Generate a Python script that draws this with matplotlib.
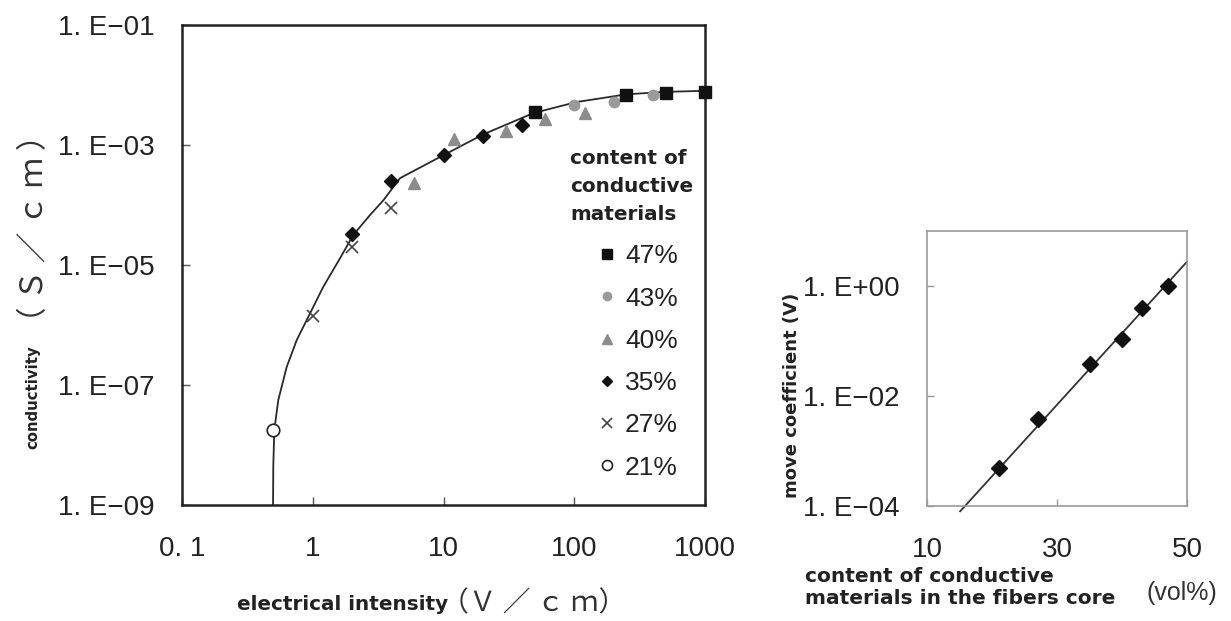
import matplotlib
matplotlib.use("Agg")
import matplotlib.pyplot as plt
from matplotlib.ticker import FixedLocator, FixedFormatter, NullLocator

# ---------------- data ----------------
# left panel: conductivity vs electrical intensity, one series per content
labels_content = ["47%", "43%", "40%", "35%", "27%", "21%"]

c47_x = [50, 250, 500, 1000]
c47_y = [3.5e-3, 6.8e-3, 7.4e-3, 7.7e-3]
c43_x = [100, 200, 400]
c43_y = [4.6e-3, 5.3e-3, 6.8e-3]
c40_x = [6, 12, 30, 60, 120]
c40_y = [2.3e-4, 1.26e-3, 1.7e-3, 2.7e-3, 3.4e-3]
c35_x = [2, 4, 10, 20, 40]
c35_y = [3.3e-5, 2.5e-4, 6.8e-4, 1.4e-3, 2.15e-3]
c27_x = [1, 2, 4]
c27_y = [1.4e-6, 2.0e-5, 9.0e-5]
c21_x = [0.5]
c21_y = [1.75e-8]

# fitted curve, points
fit_x = [0.494, 0.499, 0.508, 0.545, 0.632, 0.754, 0.925, 1.205, 1.615, 2.04,
         2.74, 3.47, 4.65, 10.3, 20.1, 48.6, 104, 252, 509, 1000]
fit_y = [1e-10, 4.4e-9, 1.78e-8, 5.6e-8, 2.0e-7, 5.6e-7, 1.37e-6, 4.35e-6, 1.29e-5, 3.16e-5,
         6.8e-5, 1.2e-4, 2.8e-4, 7.0e-4, 1.5e-3, 3.4e-3, 5.2e-3, 7.0e-3, 7.7e-3, 8.0e-3]

left_xticks = [0.1, 1, 10, 100, 1000]
left_xticklabels = ["0. 1", "1", "10", "100", "1000"]
left_yticks = [1e-9, 1e-7, 1e-5, 1e-3, 1e-1]
left_yticklabels = ["1. E\u221209", "1. E\u221207", "1. E\u221205", "1. E\u221203", "1. E\u221201"]

# right panel: move coefficient vs content
mc_content = [21, 27, 35, 40, 43, 47]
mc_coef = [4.8e-4, 3.8e-3, 0.038, 0.11, 0.40, 1.0]
trend_x = [15.1, 50]
trend_y = [8.0e-5, 2.73]

right_xticks = [10, 30, 50]
right_xticklabels = ["10", "30", "50"]
right_yticks = [1e-4, 1e-2, 1e0]
right_yticklabels = ["1. E\u221204", "1. E\u221202", "1. E+00"]

# ---------------- layout helpers ----------------
W, H = 1231, 621
def fx(px):
    return px / W
def fy(py):
    return 1 - py / H

NARROW = ["Liberation Sans", "DejaVu Sans"]
BOLD = ["DejaVu Sans"]
CJK = ["Noto Sans CJK JP", "DejaVu Sans"]
TXT = "#222222"

fig = plt.figure(figsize=(W / 100, H / 100), dpi=100)
fig.patch.set_facecolor("white")

# ---------------- left panel ----------------
ax = fig.add_axes([fx(182), fy(505), fx(705) - fx(182), fy(25) - fy(505)])
ax.set_xscale("log")
ax.set_yscale("log")
ax.set_xlim(0.1, 1000)
ax.set_ylim(1e-9, 1e-1)

ax.plot(fit_x, fit_y, color="#2a2a2a", lw=1.3, zorder=2)

h47, = ax.plot(c47_x, c47_y, ls="none", marker="s", ms=9, mfc="#111111", mec="#111111", zorder=5, clip_on=False)
h43, = ax.plot(c43_x, c43_y, ls="none", marker="o", ms=7.5, mfc="#9a9a9a", mec="#9a9a9a", zorder=4)
h40, = ax.plot(c40_x, c40_y, ls="none", marker="^", ms=8.5, mfc="#8c8c8c", mec="#8c8c8c", zorder=4)
h35, = ax.plot(c35_x, c35_y, ls="none", marker="D", ms=7, mfc="#111111", mec="#111111", zorder=4)
h27, = ax.plot(c27_x, c27_y, ls="none", marker="x", ms=9, mew=1.2, color="#444444", zorder=4)
h21, = ax.plot(c21_x, c21_y, ls="none", marker="o", ms=9, mfc="white", mec="#222222", mew=1.2, zorder=4)

for s in ax.spines.values():
    s.set_color("#222222")
    s.set_linewidth(1.8)

ax.xaxis.set_major_locator(FixedLocator(left_xticks))
ax.xaxis.set_major_formatter(FixedFormatter(left_xticklabels))
ax.yaxis.set_major_locator(FixedLocator(left_yticks))
ax.yaxis.set_major_formatter(FixedFormatter(left_yticklabels))
ax.xaxis.set_minor_locator(NullLocator())
ax.yaxis.set_minor_locator(NullLocator())
ax.tick_params(axis="both", direction="in", length=6, width=1, color="#555555")
ax.tick_params(axis="x", pad=22)
ax.tick_params(axis="y", pad=20)
for t in ax.get_xticklabels() + ax.get_yticklabels():
    t.set_family(NARROW)
    t.set_fontsize(20)
    t.set_color(TXT)

# legend title and entries
for txt, py in zip(["content of", "conductive", "materials"], [158, 187, 215]):
    fig.text(fx(570), fy(py), txt, ha="left", va="center", fontsize=14.4,
             fontweight="bold", family=BOLD, color=TXT)

leg = ax.legend([h47, h43, h40, h35, h27, h21], labels_content,
                loc="center left", bbox_to_anchor=(fx(596), fy(362)),
                bbox_transform=fig.transFigure, frameon=False,
                prop={"family": NARROW, "size": 19}, labelspacing=0.69,
                handlelength=0.8, handletextpad=0.3, borderpad=0,
                borderaxespad=0, markerscale=0.8)
for t in leg.get_texts():
    t.set_color(TXT)

# axis labels (left)
fig.text(fx(33), fy(397), "conductivity", rotation=90, ha="center", va="center",
         fontsize=10.7, fontweight="bold", family=BOLD, color=TXT)
fig.text(fx(35), fy(228), "（ Ｓ ／ ｃ ｍ ）", rotation=90, ha="center", va="center",
         fontsize=22, family=CJK, color="#333333")
fig.text(fx(237), fy(605), "electrical intensity", ha="left", va="center",
         fontsize=14.4, fontweight="bold", family=BOLD, color=TXT)
fig.text(fx(534), fy(603), "（Ｖ ／ ｃ ｍ）", ha="center", va="center",
         fontsize=20, family=CJK, color="#333333")

# ---------------- right panel ----------------
ax2 = fig.add_axes([fx(927), fy(506), fx(1187) - fx(927), fy(230.7) - fy(506)])
ax2.set_yscale("log")
ax2.set_xlim(10, 50)
ax2.set_ylim(1e-4, 1e1)

ax2.plot(trend_x, trend_y, color="#333333", lw=1.3, zorder=2, clip_on=False)
ax2.plot(mc_content, mc_coef, ls="none", marker="D", ms=8, mfc="#111111", mec="#111111", zorder=4)

for s in ax2.spines.values():
    s.set_color("#9a9a9a")
    s.set_linewidth(1.2)

ax2.xaxis.set_major_locator(FixedLocator(right_xticks))
ax2.xaxis.set_major_formatter(FixedFormatter(right_xticklabels))
ax2.yaxis.set_major_locator(FixedLocator(right_yticks))
ax2.yaxis.set_major_formatter(FixedFormatter(right_yticklabels))
ax2.xaxis.set_minor_locator(NullLocator())
ax2.yaxis.set_minor_locator(NullLocator())
ax2.tick_params(axis="both", direction="in", length=5, width=1, color="#9a9a9a")
ax2.tick_params(axis="x", pad=22)
ax2.tick_params(axis="y", pad=20)
for t in ax2.get_xticklabels() + ax2.get_yticklabels():
    t.set_family(NARROW)
    t.set_fontsize(20)
    t.set_color(TXT)

fig.text(fx(792), fy(395), "move coefficient (V)", rotation=90, ha="center", va="center",
         fontsize=13, fontweight="bold", family=BOLD, color=TXT)
fig.text(fx(805), fy(576), "content of conductive", ha="left", va="center",
         fontsize=14.5, fontweight="bold", family=BOLD, color=TXT)
fig.text(fx(805), fy(599), "materials in the fibers core", ha="left", va="center",
         fontsize=14.5, fontweight="bold", family=BOLD, color=TXT)
fig.text(fx(1182), fy(593), "(vol%)", ha="center", va="center",
         fontsize=18, family=NARROW, color="#333333")

fig.savefig("out.png", dpi=100, facecolor="white")
